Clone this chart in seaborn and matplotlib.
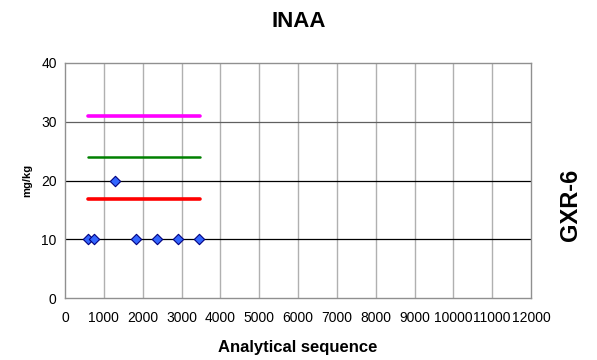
import matplotlib
matplotlib.use("Agg")
import matplotlib.pyplot as plt
import numpy as np
import pandas as pd
import seaborn as sns

# measured values (INAA, GXR-6)
seq = [600, 750, 1290, 1830, 2380, 2920, 3460]
conc = [10, 10, 20, 10, 10, 10, 10]

# reference lines: start/end of sequence and level
line_x = [590, 3480]
upper_level = 31.0
certified = 24.0
lower_level = 16.9

sns.set_style("white")
plt.rcParams["font.family"] = ["Liberation Sans", "DejaVu Sans"]
plt.rcParams["text.color"] = "black"
plt.rcParams["axes.labelcolor"] = "black"
plt.rcParams["xtick.color"] = "black"
plt.rcParams["ytick.color"] = "black"

fig = plt.figure(figsize=(5.97, 3.6), dpi=100)
ax = fig.add_axes([0.1089, 0.1722, 0.7806, 0.6528])

df = pd.DataFrame({"seq": seq, "conc": conc})
lines = pd.DataFrame({
    "x": line_x * 3,
    "y": [upper_level] * 2 + [certified] * 2 + [lower_level] * 2,
    "kind": ["upper"] * 2 + ["cert"] * 2 + ["lower"] * 2,
})

ax.set_xlim(0, 12000)
ax.set_ylim(0, 40)
ax.set_xticks(np.arange(0, 12001, 1000))
ax.set_yticks([0, 10, 20, 30, 40])

# grid
for xv in np.arange(1000, 12000, 1000):
    ax.axvline(xv, color="#b0b0b0", lw=1.0, zorder=0)
for yv, c in [(10, "black"), (20, "black"), (30, "#606060")]:
    ax.axhline(yv, color=c, lw=0.9, zorder=0)

sns.lineplot(data=lines, x="x", y="y", hue="kind",
             palette={"upper": "#ff00ff", "cert": "#008000", "lower": "#ff0000"},
             size="kind", sizes={"upper": 2.6, "cert": 1.8, "lower": 2.6},
             legend=False, ax=ax, zorder=2)
sns.scatterplot(data=df, x="seq", y="conc", marker="D", s=28,
                color="#3366ff", edgecolor="#000080", linewidth=0.8,
                ax=ax, zorder=3)

for s in ax.spines.values():
    s.set_color("#909090")
    s.set_linewidth(1.0)

ax.tick_params(axis="both", labelsize=10, length=0)
ax.tick_params(axis="x", pad=9)
ax.tick_params(axis="y", pad=6)
ax.set_xlabel("Analytical sequence", fontsize=12, fontweight="bold")
ax.xaxis.set_label_coords(0.5, -0.18)
ax.set_ylabel("mg/kg", fontsize=8, fontweight="bold")
ax.yaxis.set_label_coords(-0.07, 0.5)

fig.text(0.5, 0.94, "INAA", ha="center", va="center", fontsize=16, fontweight="bold")
fig.text(0.955, 0.43, "GXR-6", ha="center", va="center", rotation=90,
         fontsize=17, fontweight="bold")

fig.savefig("out.png", dpi=100)
